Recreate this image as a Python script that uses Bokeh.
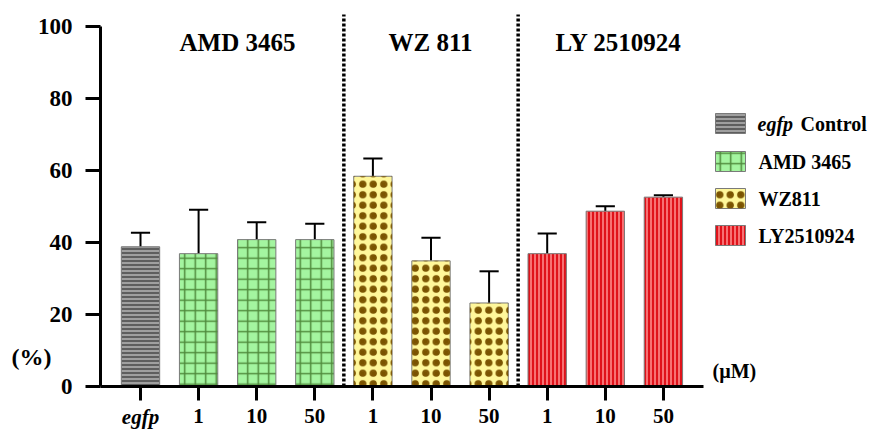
from bokeh.plotting import figure
from bokeh.models import ColumnDataSource, FixedTicker, Range1d
from bokeh.embed import file_html
from bokeh.resources import INLINE
from bokeh.core.properties import value

# ---- data ----
tick_labels = ["egfp", "1", "10", "50", "1", "10", "50", "1", "10", "50"]
groups = ["egfp Control", "AMD 3465", "AMD 3465", "AMD 3465",
          "WZ811", "WZ811", "WZ811",
          "LY2510924", "LY2510924", "LY2510924"]
means = [38.8, 36.9, 40.8, 40.8, 58.4, 34.9, 23.2, 36.9, 48.7, 52.6]
errors = [3.9, 12.2, 4.8, 4.4, 4.9, 6.4, 8.8, 5.6, 1.4, 0.5]
y_ticks = [0, 20, 40, 60, 80, 100]
group_titles = ["AMD 3465", "WZ 811", "LY 2510924"]
legend_names = ["egfp Control", "AMD 3465", "WZ811", "LY2510924"]
legend_italic = ["egfp", "", "", ""]
legend_rest = ["Control", "AMD 3465", "WZ811", "LY2510924"]
y_unit = "(%)"
x_unit = "(\u00b5M)"

FONT = "'Liberation Serif', 'Times New Roman', Times, serif"

styles = {
    "egfp Control": dict(fill="#5e5e5e", pat="horizontal_line", hc="#b0b0b0", hs=4, hw=1.6, pat2="blank"),
    "AMD 3465": dict(fill="#a4f5a0", pat="cross", hc="#4f8a3c", hs=10.5, hw=1.5, pat2="blank"),
    "WZ811": dict(fill="#fff79a", pat="dot", hc="#7a5300", hs=10.5, hw=2, pat2="ring"),
    "LY2510924": dict(fill="#e0121a", pat="vertical_line", hc="#ff9090", hs=4, hw=1.5, pat2="blank"),
}

W, H = 874, 438
# page-pixel -> data helpers (layout only)
X0, XS = 140.0, 58.1
Y0, YS = 386.0, 3.6
def px(x):
    return (x - X0) / XS
def py(y):
    return (Y0 - y) / YS

def style_cols(names):
    return dict(
        fill=[styles[g]["fill"] for g in names],
        pat=[styles[g]["pat"] for g in names],
        pat2=[styles[g]["pat2"] for g in names],
        hc=[styles[g]["hc"] for g in names],
        hs=[styles[g]["hs"] for g in names],
        hw=[styles[g]["hw"] for g in names],
    )

xs = list(range(len(means)))
src = ColumnDataSource(dict(x=xs, top=means, **style_cols(groups)))

p = figure(width=W, height=H,
           x_range=Range1d(px(0), px(W)), y_range=Range1d(py(H), py(0)),
           output_backend="svg", toolbar_location=None,
           min_border_left=0, min_border_right=0,
           min_border_top=0, min_border_bottom=0)
p.outline_line_color = None
p.grid.grid_line_color = None
p.background_fill_color = "white"

# separators
p.segment(x0=[3.5, 6.5], y0=[0, 0], x1=[3.5, 6.5], y1=[py(14), py(14)],
          line_color="black", line_width=3.5, line_dash="3 2")

# error bars (upper only)
err_top = [m + e for m, e in zip(means, errors)]
p.segment(x0=xs, y0=means, x1=xs, y1=err_top, line_color="black", line_width=2)
p.segment(x0=[x - 0.165 for x in xs], y0=err_top, x1=[x + 0.165 for x in xs], y1=err_top,
          line_color="black", line_width=2)

# bars
p.vbar(x="x", top="top", bottom=0, width=0.66, source=src,
       fill_color="fill", line_color="#7a7a7a", line_width=1,
       hatch_pattern="pat", hatch_color="hc", hatch_scale="hs", hatch_weight="hw")
p.vbar(x="x", top="top", bottom=0, width=0.66, source=src,
       fill_color=None, line_color=None,
       hatch_pattern="pat2", hatch_color="hc", hatch_scale="hs", hatch_weight="hw")

# group titles
p.text(x=[px(237), px(430), px(618)], y=[py(42)] * 3, text=group_titles,
       text_font=value(FONT), text_font_style="bold", text_font_size="25px",
       text_align="center", text_baseline="middle", text_color="black")

# legend
row_y = [py(123), py(161), py(198), py(235)]
hh = 10 / YS
lsrc = ColumnDataSource(dict(
    left=[px(715)] * 4, right=[px(745)] * 4,
    top=[y + hh for y in row_y], bottom=[y - hh for y in row_y],
    **style_cols(legend_names)))
p.quad(left="left", right="right", top="top", bottom="bottom", source=lsrc,
       fill_color="fill", line_color="#7a7a7a", line_width=1,
       hatch_pattern="pat", hatch_color="hc", hatch_scale="hs", hatch_weight="hw")
p.quad(left="left", right="right", top="top", bottom="bottom", source=lsrc,
       fill_color=None, line_color=None,
       hatch_pattern="pat2", hatch_color="hc", hatch_scale="hs", hatch_weight="hw")
p.text(x=[px(757)] * 4, y=row_y, text=legend_italic,
       text_font=value(FONT), text_font_style="bold italic", text_font_size="20px",
       text_align="left", text_baseline="middle", text_color="black")
p.text(x=[px(800), px(758), px(758), px(758)], y=row_y, text=legend_rest,
       text_font=value(FONT), text_font_style="bold", text_font_size="20px",
       text_align="left", text_baseline="middle", text_color="black")

# unit labels
p.text(x=[px(712)], y=[py(370)], text=[x_unit],
       text_font=value(FONT), text_font_style="bold", text_font_size="20px",
       text_align="left", text_baseline="middle", text_color="black")
p.text(x=[px(11)], y=[py(356)], text=[y_unit],
       text_font=value(FONT), text_font_style="bold", text_font_size="24px",
       text_align="left", text_baseline="middle", text_color="black")

# italic first category label (under its tick)
p.text(x=[0], y=[py(404)], text=[tick_labels[0]],
       text_font=value(FONT), text_font_style="bold italic", text_font_size="21px",
       text_align="center", text_baseline="top", text_color="black")

# axes (drawn at fixed data locations inside the full-size frame)
xa = p.xaxis[0]
xa.fixed_location = 0
xa.ticker = FixedTicker(ticks=xs)
xa.major_label_overrides = {i: (t if i > 0 else " ") for i, t in enumerate(tick_labels)}
xa.bounds = (px(100), px(703))
xa.axis_line_width = 3
xa.axis_line_color = "black"
xa.major_tick_line_width = 3
xa.major_tick_line_color = "black"
xa.major_tick_out = 14
xa.major_tick_in = 0
xa.minor_tick_line_color = None
xa.major_label_text_font = FONT
xa.major_label_text_font_style = "bold"
xa.major_label_text_font_size = "21px"
xa.major_label_text_color = "black"
xa.major_label_standoff = 3

ya = p.yaxis[0]
ya.fixed_location = px(100)
ya.ticker = FixedTicker(ticks=y_ticks)
ya.bounds = (0, 100)
ya.axis_line_width = 3
ya.axis_line_color = "black"
ya.major_tick_line_width = 3
ya.major_tick_line_color = "black"
ya.major_tick_out = 15
ya.major_tick_in = 0
ya.minor_tick_line_color = None
ya.major_label_text_font = FONT
ya.major_label_text_font_style = "bold"
ya.major_label_text_font_size = "23px"
ya.major_label_text_color = "black"
ya.major_label_standoff = 13

open("out.html", "w").write(file_html(p, INLINE))
